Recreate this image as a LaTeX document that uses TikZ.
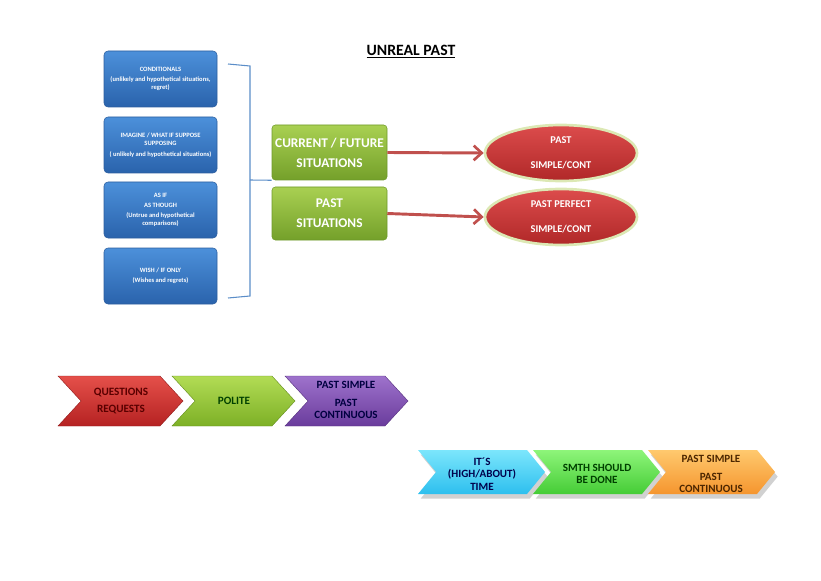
\documentclass[tikz,border=0pt]{standalone}
\usepackage{fontspec}
\setmainfont{Carlito}
\usetikzlibrary{shapes.geometric,shadows,arrows.meta}
\definecolor{bluetop}{HTML}{4C90DA}
\definecolor{bluebot}{HTML}{2A63AC}
\definecolor{blueedge}{HTML}{2C5E9E}
\definecolor{bracketc}{HTML}{5B8DC8}
\definecolor{greentop}{HTML}{A9D052}
\definecolor{greenbot}{HTML}{74A02A}
\definecolor{greenedge}{HTML}{6E9A2A}
\definecolor{redtop}{HTML}{DC4C4C}
\definecolor{redbot}{HTML}{B02828}
\definecolor{glowc}{HTML}{DCE8B4}
\definecolor{arrowc}{HTML}{C0504D}
\definecolor{chredtop}{HTML}{E5504A}
\definecolor{chredbot}{HTML}{B52222}
\definecolor{chgreentop}{HTML}{B2DC55}
\definecolor{chgreenbot}{HTML}{7DB026}
\definecolor{chpurtop}{HTML}{9E72CC}
\definecolor{chpurbot}{HTML}{6A3C9C}
\definecolor{cyantop}{HTML}{7CE6FC}
\definecolor{cyanbot}{HTML}{2DBFEE}
\definecolor{lgreentop}{HTML}{8EF57A}
\definecolor{lgreenbot}{HTML}{45CC36}
\definecolor{orangetop}{HTML}{FFC96E}
\definecolor{orangebot}{HTML}{F5952E}
\begin{document}
\begin{tikzpicture}[x=0.75pt,y=-0.75pt,
  bluebox/.style={rectangle,rounded corners=3pt,draw=blueedge,line width=0.4pt,
    top color=bluetop,bottom color=bluebot,minimum width=84.75pt,minimum height=42pt,
    inner sep=1pt,text=white,align=center,font=\fontsize{4.9}{6.3}\selectfont\bfseries},
  greenbox/.style={rectangle,rounded corners=2.5pt,draw=greenedge,line width=0.4pt,
    top color=greentop,bottom color=greenbot,minimum width=86.25pt,
    inner sep=1pt,text=white,align=center,font=\fontsize{10}{15}\selectfont\bfseries},
  redell/.style={ellipse,draw=glowc,line width=2pt,top color=redtop,bottom color=redbot,
    minimum width=114pt,minimum height=42pt,inner sep=0pt,text=white,align=center,
    font=\fontsize{7.8}{19}\selectfont\bfseries},
  redarrow/.style={draw=arrowc,line width=2.2pt,-{Straight Barb[length=6pt,width=11pt,line width=2pt]}},
  bracketline/.style={draw=bracketc,line width=0.8pt},
  chevtext/.style={align=center,inner sep=0pt,font=\fontsize{8.4}{11}\selectfont\bfseries},
  chevtextb/.style={align=center,inner sep=0pt,font=\fontsize{8.3}{9.2}\selectfont\bfseries},
  chshadow/.style={drop shadow={shadow xshift=2pt,shadow yshift=-3.5pt,opacity=0.3,fill=black!60}}
]
\useasboundingbox (0,0) rectangle (821,581);

% title
\node[font=\fontsize{11.8}{13}\selectfont\bfseries,inner sep=0pt] (title) at (411,52) {\underline{UNREAL PAST}};

% blue boxes
\node[bluebox] (b1) at (160.5,79) {CONDITIONALS\\[1pt](unlikely and hypothetical situations,\\regret)};
\node[bluebox] (b2) at (160.5,145) {IMAGINE / WHAT IF SUPPOSE\\SUPPOSING\\[2pt]( unlikely and hypothetical situations)};
\node[bluebox] (b3) at (160.5,210) {AS IF\\[1pt]AS THOUGH\\[1.5pt](Untrue and hypothetical\\comparisons)};
\node[bluebox] (b4) at (160.5,276) {WISH / IF ONLY\\[1pt](Wishes and regrets)};

% green boxes
\node[greenbox,minimum height=41.25pt] (g1) at (329.5,152.5) {CURRENT / FUTURE\\SITUATIONS};
\node[greenbox,minimum height=39.75pt] (g2) at (329.5,213.5) {PAST\\SITUATIONS};

% bracket
\coordinate (brt) at (228,64);
\coordinate (brb) at (228,298);
\draw[bracketline] (brt) -- (250,66) -- (250,296) -- (brb);
\draw[bracketline] (250,180) -- (g1.south west);

% ellipses
\node[redell] (e1) at (561,153) {PAST\\SIMPLE/CONT};
\node[redell] (e2) at (561,217) {PAST PERFECT\\SIMPLE/CONT};

% arrows
\draw[redarrow] (g1.east) -- (e1.west);
\draw[redarrow] (g2.east) -- (e2.west);

% row 1 chevrons
\path[top color=chredtop,bottom color=chredbot,draw=chredbot!80!black,line width=0.3pt]
  (58,376) -- (160,376) -- (183,401) -- (160,426) -- (58,426) -- (81,401) -- cycle;
\path[top color=chgreentop,bottom color=chgreenbot,draw=chgreenbot!80!black,line width=0.3pt]
  (172,376) -- (272,376) -- (295,401) -- (272,426) -- (172,426) -- (195,401) -- cycle;
\path[top color=chpurtop,bottom color=chpurbot,draw=chpurbot!80!black,line width=0.3pt]
  (285,376) -- (385,376) -- (408,401) -- (385,426) -- (285,426) -- (308,401) -- cycle;
\node[chevtext,text=red!35!black] (c1) at (121,401) {QUESTIONS\\[2pt]REQUESTS};
\node[chevtext,text=green!25!black] (c2) at (234,401) {POLITE};
\node[chevtextb,text=blue!25!black] (c3) at (346,400) {PAST SIMPLE\\[4pt]PAST\\CONTINUOUS};

% row 2 chevrons
\path[chshadow,top color=cyantop,bottom color=cyanbot]
  (418,450) -- (527,450) -- (545,472) -- (527,494) -- (418,494) -- (436,472) -- cycle;
\path[chshadow,top color=lgreentop,bottom color=lgreenbot]
  (533,450) -- (642,450) -- (660,472) -- (642,494) -- (533,494) -- (551,472) -- cycle;
\path[chshadow,top color=orangetop,bottom color=orangebot]
  (648,450) -- (757,450) -- (775,472) -- (757,494) -- (648,494) -- (666,472) -- cycle;
\node[chevtextb,text=blue!30!black] (d1) at (482,474) {IT´S\\(HIGH/ABOUT)\\TIME};
\node[chevtextb,text=green!25!black] (d2) at (597,474) {SMTH SHOULD\\BE DONE};
\node[chevtextb,text=orange!30!black] (d3) at (711,474) {PAST SIMPLE\\[4pt]PAST\\CONTINUOUS};
\end{tikzpicture}
\end{document}
